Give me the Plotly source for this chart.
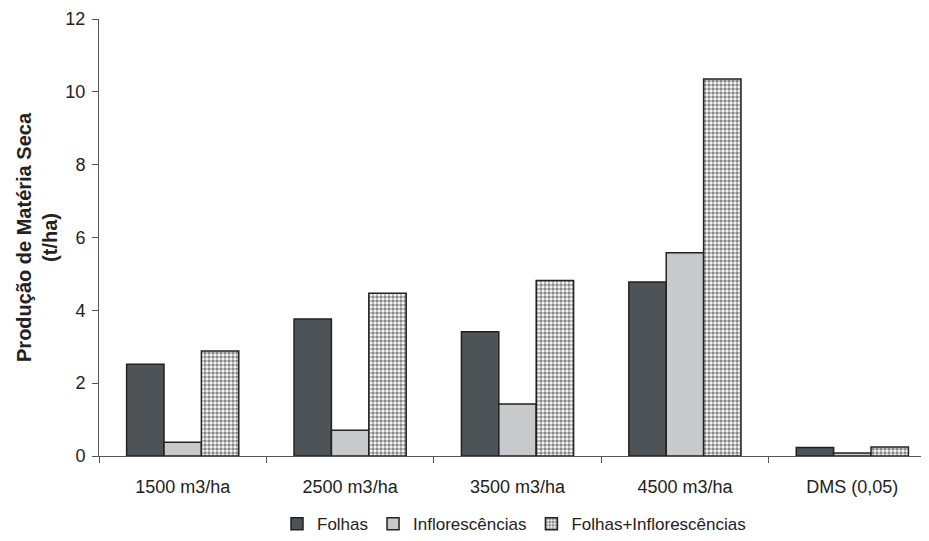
import plotly.graph_objects as go

categories = ["1500 m3/ha", "2500 m3/ha", "3500 m3/ha", "4500 m3/ha", "DMS (0,05)"]
folhas = [2.52, 3.76, 3.41, 4.78, 0.23]
inflorescencias = [0.38, 0.71, 1.43, 5.58, 0.08]
folhas_infl = [2.88, 4.47, 4.82, 10.35, 0.25]
yticks = [0, 2, 4, 6, 8, 10, 12]

FONT = "Liberation Sans, Arial, sans-serif"
line = dict(color="#222222", width=1.5)

fig = go.Figure()
fig.add_bar(x=categories, y=folhas, name="Folhas",
            marker=dict(color="#4d5356", line=line))
fig.add_bar(x=categories, y=inflorescencias, name="Inflorescências",
            marker=dict(color="#c8c9cb", line=line))
fig.add_bar(x=categories, y=folhas_infl, name="Folhas+Inflorescências",
            marker=dict(color="white", line=line,
                        pattern=dict(shape=".", fgcolor="#111111", bgcolor="white",
                                     size=4, solidity=0.6)))

fig.update_layout(
    width=929, height=541,
    margin=dict(l=91, r=8, t=11, b=93, autoexpand=False),
    paper_bgcolor="white", plot_bgcolor="white",
    barmode="group", bargap=0.33, bargroupgap=0,
    font=dict(family=FONT, size=17, color="#222222"),
    showlegend=True,
    legend=dict(orientation="h", x=0.5, xanchor="center",
                yref="container", y=0.046, yanchor="middle",
                font=dict(size=17, color="#222222"), itemwidth=30,
                tracegroupgap=0, bgcolor="rgba(0,0,0,0)"),
)
fig.update_xaxes(
    type="category", range=[-0.5, 4.458], automargin=False,
    showline=True, linecolor="#555555", linewidth=1,
    ticks="outside", tickson="boundaries", ticklen=6, tickcolor="#555555",
    showgrid=False, ticklabelstandoff=14,
    tickfont=dict(size=18, color="#222222"),
)
fig.update_yaxes(
    range=[0, 12], tickvals=yticks, ticktext=[str(v) for v in yticks],
    automargin=False,
    showline=True, linecolor="#555555", linewidth=1,
    ticks="outside", ticklen=6, tickcolor="#555555",
    showgrid=False, zeroline=False, ticklabelstandoff=3,
    tickfont=dict(size=18, color="#222222"),
    title=dict(text="<b>Produção de Matéria Seca<br>(t/ha)</b>",
               font=dict(size=20, color="#222222"), standoff=2),
)

fig.write_html("out.html")
